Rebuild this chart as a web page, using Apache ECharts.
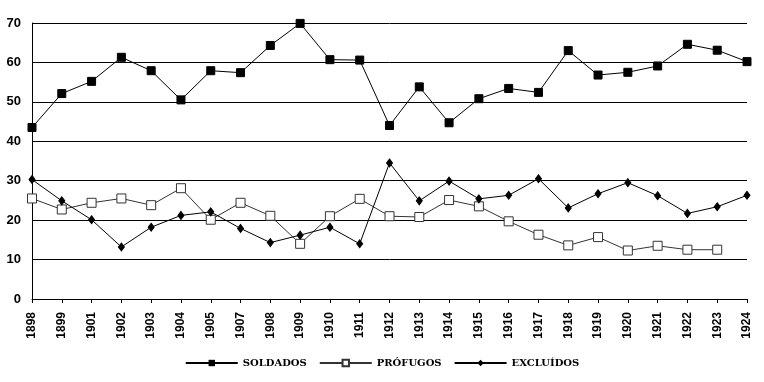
<!DOCTYPE html>
<html><head><meta charset="utf-8">
<script src="https://cdn.jsdelivr.net/npm/echarts@6/dist/echarts.min.js"></script>
<style>html,body{margin:0;padding:0;background:#fff}#c{width:764px;height:382px}</style>
</head><body><div id="c"></div>
<script>
const categories = ['1898','1899','1901','1902','1903','1904','1905','1907','1908','1909','1910','1911','1912','1913','1914','1915','1916','1917','1918','1919','1920','1921','1922','1923','1924'];
const soldados = [43.5,52.1,55.2,61.3,57.9,50.5,57.9,57.4,64.3,69.9,60.7,60.6,44.0,53.8,44.7,50.8,53.4,52.4,63.0,56.8,57.5,59.1,64.6,63.1,60.2];
const profugos = [25.5,22.7,24.4,25.5,23.8,28.1,20.1,24.4,21.1,14.0,21.0,25.4,21.0,20.8,25.1,23.5,19.7,16.3,13.6,15.7,12.3,13.5,12.5,12.5,null];
const excluidos = [30.3,24.9,20.1,13.2,18.2,21.2,22.1,17.9,14.3,16.2,18.2,14.0,34.5,24.9,29.9,25.4,26.3,30.5,23.1,26.7,29.5,26.2,21.7,23.4,26.3];
const yTicks = {min:0, max:70, interval:10};

const chart = echarts.init(document.getElementById('c'), null, {renderer:'canvas'});
chart.setOption({
  animation:false,
  backgroundColor:'#fff',
  grid:{left:32, right:17, top:23, bottom:83, containLabel:false},
  legend:{
    top:353, left:'center', itemWidth:52, itemHeight:8, itemGap:12,
    textStyle:{fontFamily:'DejaVu Serif', fontWeight:'bold', fontSize:10, color:'#000'},
    data:['SOLDADOS','PRÓFUGOS','EXCLUÍDOS']
  },
  xAxis:{
    type:'category', data:categories, boundaryGap:false,
    axisLine:{lineStyle:{color:'#000', width:1}},
    axisTick:{show:true, length:4, lineStyle:{color:'#000'}},
    axisLabel:{rotate:90, margin:13, fontFamily:'Liberation Sans', fontWeight:'bold', fontSize:12, color:'#000', interval:0},
    splitLine:{show:false}
  },
  yAxis:{
    type:'value', min:yTicks.min, max:yTicks.max, interval:yTicks.interval,
    axisLine:{show:true, lineStyle:{color:'#000', width:1}},
    axisTick:{show:false},
    axisLabel:{margin:11, fontFamily:'Liberation Sans', fontWeight:'bold', fontSize:13, color:'#000'},
    splitLine:{show:true, lineStyle:{color:'#000', width:1}}
  },
  series:[
    {name:'SOLDADOS', type:'line', data:soldados, symbol:'rect', symbolSize:8,
     lineStyle:{color:'#000', width:1}, itemStyle:{color:'#000', borderColor:'#000'}},
    {name:'PRÓFUGOS', type:'line', data:profugos, symbol:'rect', symbolSize:9,
     lineStyle:{color:'#333', width:1}, itemStyle:{color:'#fff', borderColor:'#333', borderWidth:1}},
    {name:'EXCLUÍDOS', type:'line', data:excluidos, symbol:'diamond', symbolSize:[6,8],
     lineStyle:{color:'#000', width:1}, itemStyle:{color:'#000', borderColor:'#000'}}
  ]
});
</script></body></html>
